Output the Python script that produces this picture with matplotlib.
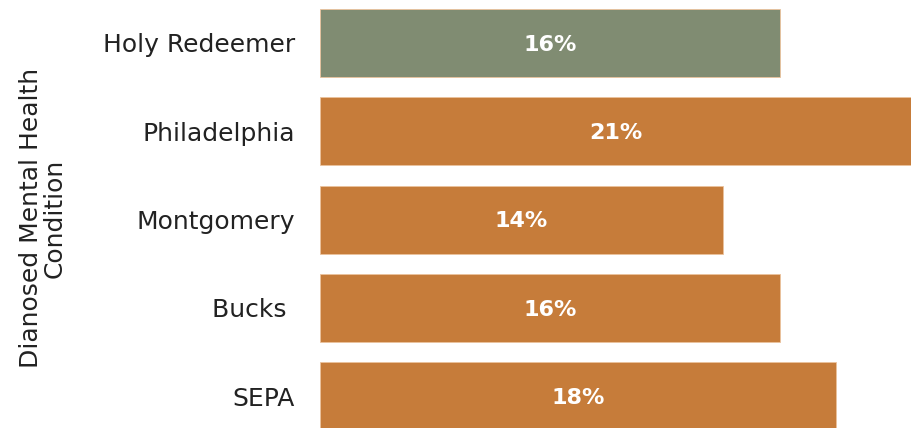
import matplotlib
matplotlib.use("Agg")
import matplotlib.pyplot as plt

categories = ["Holy Redeemer", "Philadelphia", "Montgomery", "Bucks ", "SEPA"]
values = [16.3, 21.0, 14.3, 16.3, 18.3]
value_labels = ["16%", "21%", "14%", "16%", "18%"]
colors = ["#808C72", "#C67C3A", "#C67C3A", "#C67C3A", "#C67C3A"]

plt.rcParams['font.family'] = ['DejaVu Sans']

fig = plt.figure(figsize=(9.12, 4.28), dpi=100)
ax = fig.add_axes([320/912, 0, 592/912, 1])

pos = list(range(len(categories)))
bars = ax.barh(pos, values, height=0.77, color=colors, edgecolor="#EBC29C", linewidth=0.6)
for b, lab in zip(bars, value_labels):
    ax.text(b.get_x() + b.get_width()/2, b.get_y() + b.get_height()/2 + 0.02, lab,
            ha="center", va="center", color="white", fontsize=16, fontweight="bold")

ax.set_xlim(0, 21.0)
ax.set_ylim(4.36, -0.486)
ax.set_yticks(pos)
ax.set_yticklabels(categories, fontsize=18, color="#222222")
ax.tick_params(axis="y", length=0, pad=18)
ax.set_xticks([])
for s in ax.spines.values():
    s.set_visible(False)

fig.text(43/912, 1 - 218/428, "Dianosed Mental Health\nCondition", rotation=90,
         ha="center", va="center", fontsize=18, color="#222222", linespacing=0.95)

fig.savefig("out.png", dpi=100)
